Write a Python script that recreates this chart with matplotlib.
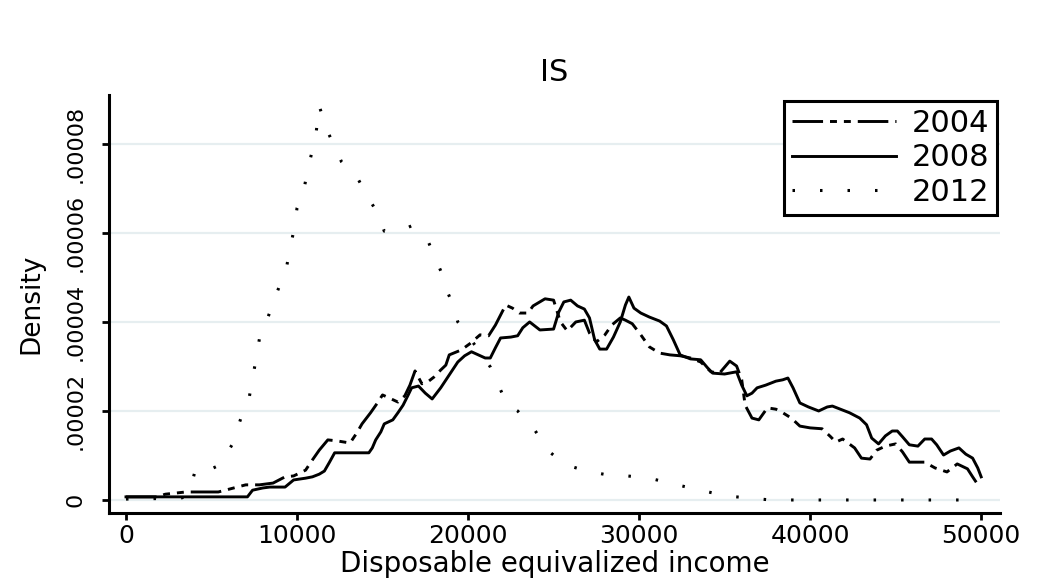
import numpy as np
import matplotlib
matplotlib.use("Agg")
import matplotlib.pyplot as plt

plt.rcParams['font.family'] = ['DejaVu Sans']
plt.rcParams['lines.scale_dashes'] = False

#%% Data (income, density in units of 1e-5)
inc_2004 = [0, 1800, 2300, 3500, 5400, 6300, 7000, 7800, 8600, 9300, 9800, 10500,
            10900, 11300, 11800, 12300, 13100, 13500, 13800, 14300, 14700, 15000,
            15400, 15900, 16300, 16600, 16900, 17300, 17700, 18000, 18400, 18700,
            18900, 19600, 20100, 20700, 21200, 21600, 22200, 22600, 23000, 23500,
            23800, 24500, 25000, 25400, 25800, 26300, 26800, 27100, 27500, 28000,
            28400, 28900, 29200, 29600, 30100, 30600, 31200, 31800, 32400, 33000,
            33600, 34200, 34700, 35300, 35700, 36000, 36200, 36600, 37000, 37500,
            38000, 38400, 38900, 39400, 40000, 40700, 41200, 41500, 41900, 42600,
            43000, 43500, 43900, 44400, 45000, 45400, 45800, 46700, 47300, 48000,
            48600, 49200, 49500, 49900]
dens_2004 = [0.07, 0.07, 0.13, 0.18, 0.18, 0.27, 0.34, 0.34, 0.38, 0.52, 0.54, 0.67,
             0.90, 1.12, 1.35, 1.33, 1.28, 1.51, 1.71, 1.96, 2.18, 2.36,
             2.29, 2.20, 2.34, 2.58, 2.90, 2.61, 2.67, 2.76, 2.92, 3.03,
             3.26, 3.37, 3.51, 3.71, 3.69, 3.93, 4.38, 4.31, 4.20, 4.20,
             4.36, 4.52, 4.49, 4.00, 3.80, 4.00, 4.04, 3.75, 3.55, 3.71,
             3.93, 4.09, 4.04, 3.96, 3.71, 3.44, 3.30, 3.26, 3.24, 3.19,
             3.10, 2.88, 2.85, 3.12, 3.01, 2.70, 2.13, 1.84, 1.80, 2.07,
             2.04, 1.96, 1.84, 1.66, 1.62, 1.60, 1.42, 1.30, 1.37, 1.17,
             0.94, 0.92, 1.12, 1.21, 1.26, 1.08, 0.85, 0.85, 0.72, 0.63,
             0.81, 0.70, 0.52, 0.29]

inc_2008 = [0, 7100, 7400, 8000, 8400, 9300, 9800, 10500, 10900, 11300, 11600, 11900,
            12200, 13100, 14200, 14400, 14600, 14900, 15100, 15600, 15900, 16200,
            16500, 16700, 17100, 17500, 17900, 18400, 18900, 19400, 19800, 20200,
            20600, 21000, 21300, 21600, 21900, 22500, 22900, 23200, 23600, 24200,
            25000, 25300, 25600, 26000, 26400, 26800, 27100, 27400, 27700, 28100,
            28500, 28900, 29200, 29400, 29700, 30100, 30600, 31200, 31600, 32000,
            32400, 33000, 33600, 34000, 34300, 35000, 35700, 36000, 36300, 36600,
            36900, 37400, 38000, 38400, 38700, 39000, 39400, 39900, 40500, 41000,
            41300, 41900, 42300, 42900, 43300, 43600, 44000, 44400, 44800, 45100,
            45400, 45800, 46300, 46700, 47100, 47400, 47800, 48200, 48700, 49100,
            49500, 49800, 50000]
dens_2008 = [0.07, 0.07, 0.22, 0.27, 0.29, 0.29, 0.45, 0.49, 0.52, 0.58, 0.65, 0.85,
             1.06, 1.06, 1.06, 1.17, 1.35, 1.53, 1.71, 1.80, 1.96, 2.13,
             2.36, 2.52, 2.56, 2.40, 2.27, 2.52, 2.81, 3.10, 3.24, 3.33,
             3.26, 3.19, 3.19, 3.42, 3.64, 3.66, 3.69, 3.87, 4.00, 3.82,
             3.84, 4.22, 4.45, 4.49, 4.36, 4.29, 4.09, 3.60, 3.39, 3.39,
             3.66, 4.00, 4.38, 4.56, 4.31, 4.20, 4.11, 4.02, 3.91, 3.60,
             3.26, 3.17, 3.15, 2.97, 2.85, 2.83, 2.88, 2.58, 2.34, 2.40,
             2.52, 2.58, 2.67, 2.70, 2.74, 2.52, 2.18, 2.09, 2.00, 2.09,
             2.11, 2.02, 1.96, 1.84, 1.69, 1.39, 1.26, 1.44, 1.55, 1.55,
             1.42, 1.24, 1.21, 1.37, 1.37, 1.24, 1.01, 1.10, 1.17, 1.03,
             0.94, 0.72, 0.52]

inc_2012 = [0, 3200, 3600, 3900, 4100, 4500, 5000, 5500, 6200, 6800, 7200, 7400,
            7600, 7800, 8000, 8200, 9400, 9800, 10000, 10400, 10600, 11100,
            11300, 11600, 11800, 12600, 13600, 14000, 14700, 15100, 16000, 16700,
            17100, 17700, 18400, 18800, 19100, 19400, 20400, 21300, 22300, 22900,
            23900, 24700, 25700, 26500, 27200, 28200, 28800, 30600, 33000, 35100,
            37700, 40300, 41700, 45300, 49800]
dens_2012 = [0.02, 0.04, 0.09, 0.45, 0.74, 0.70, 0.70, 0.79, 1.24, 1.93, 2.29, 2.74,
             3.15, 3.62, 3.89, 4.00, 5.26, 6.04, 6.56, 6.97, 7.37, 8.20,
             8.85, 8.49, 8.27, 7.60, 7.19, 6.90, 6.45, 6.04, 6.04, 6.16,
             6.00, 5.78, 5.15, 4.67, 4.40, 4.00, 3.48, 2.99, 2.13, 2.00,
             1.57, 1.10, 0.79, 0.70, 0.63, 0.56, 0.56, 0.49, 0.27, 0.09,
             0.00, 0.00, 0.00, 0.00, 0.00]

xticks = [0, 10000, 20000, 30000, 40000, 50000]
yticks = [0, 0.00002, 0.00004, 0.00006, 0.00008]
ytick_labels = ['0', '.00002', '.00004', '.00006', '.00008']

#%% Plot
fig = plt.figure(figsize=(10.41, 5.78), dpi=100)
ax = fig.add_axes([0.1047, 0.1125, 0.8559, 0.7232])

ax.plot(inc_2004, np.array(dens_2004) * 1e-5, color='black', lw=2.1,
        linestyle=(0, (22, 5, 5, 5, 5, 5)), label='2004')
ax.plot(inc_2008, np.array(dens_2008) * 1e-5, color='black', lw=2.1,
        linestyle='-', label='2008')
ax.plot(inc_2012, np.array(dens_2012) * 1e-5, color='black', lw=2.2,
        linestyle=(0, (1.8, 18)), dash_capstyle='butt', label='2012')

ax.set_xlim(-994, 51100)
ax.set_ylim(-0.292e-5, 9.10e-5)

ax.set_xticks(xticks)
ax.set_xticklabels([str(t) for t in xticks])
ax.set_yticks(yticks)
ax.set_yticklabels(ytick_labels, rotation=90, va='center')

ax.grid(axis='y', color='#e6eef0', lw=1.6)
ax.set_axisbelow(True)
for s in ['top', 'right']:
    ax.spines[s].set_visible(False)
for s in ['left', 'bottom']:
    ax.spines[s].set_linewidth(2.2)
ax.tick_params(axis='x', length=5, width=2, labelsize=18, pad=3)
ax.tick_params(axis='y', length=5, width=2, labelsize=16, pad=12)

ax.set_title('IS', fontsize=22, pad=10)
ax.set_xlabel('Disposable equivalized income', fontsize=20, va='baseline')
ax.xaxis.set_label_coords(0.5, -0.142)
ax.set_ylabel('Density', fontsize=19)
ax.yaxis.set_label_coords(-0.072, 0.5)

leg = ax.legend(loc='upper right', bbox_to_anchor=(0.9577, 0.8253),
                bbox_transform=fig.transFigure, borderaxespad=0,
                fontsize=22, frameon=True, fancybox=False, handlelength=3.4,
                handletextpad=0.5, labelspacing=0.18, borderpad=0.26)
leg.get_frame().set_edgecolor('black')
leg.get_frame().set_linewidth(2.2)
leg.get_frame().set_alpha(1)

fig.savefig('out.png', dpi=100, facecolor='white')
